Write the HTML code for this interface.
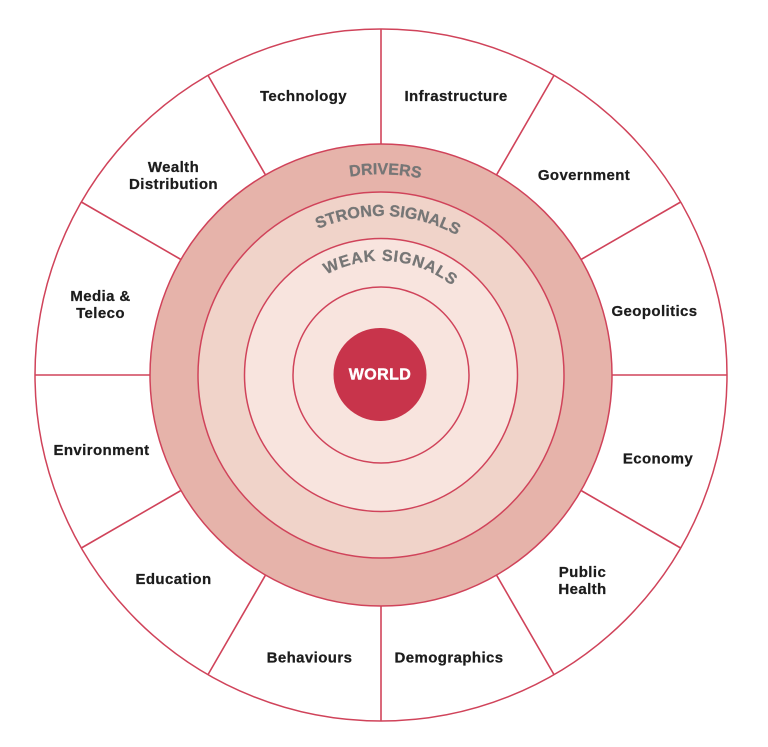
<!DOCTYPE html>
<html>
<head>
<meta charset="utf-8">
<style>
  html, body { margin:0; padding:0; background:#ffffff; }
  body { width:768px; height:747px; overflow:hidden; }
  svg { display:block; }
  .lbl { font-family:"Liberation Sans", Arial, sans-serif; font-weight:bold; font-size:15px; letter-spacing:0.4px; fill:#1c1c1c; stroke:#1c1c1c; stroke-width:0.25px; }
  .ring { font-family:"Liberation Sans", Arial, sans-serif; font-weight:bold; font-size:16px; fill:#767676; stroke:#767676; stroke-width:0.3px; }
</style>
</head>
<body>
<svg width="768" height="747" viewBox="0 0 768 747" xmlns="http://www.w3.org/2000/svg">
  <defs>
    <path id="arcD" d="M 183.1 340.1 A 201 201 0 0 1 578.9 340.1"/>
    <path id="arcS" d="M 224.4 347.4 A 159 159 0 0 1 537.6 347.4"/>
    <path id="arcW" d="M 268.7 355.2 A 114 114 0 0 1 493.3 355.2"/>
  </defs>

  <!-- outer circle -->
  <circle cx="381" cy="375" r="346" fill="#ffffff" stroke="#d0435a" stroke-width="1.5"/>

  <!-- spokes -->
  <g stroke="#d0435a" stroke-width="1.6">
    <line x1="381" y1="144" x2="381" y2="29"/>
    <line x1="381" y1="144" x2="381" y2="29" transform="rotate(30 381 375)"/>
    <line x1="381" y1="144" x2="381" y2="29" transform="rotate(60 381 375)"/>
    <line x1="381" y1="144" x2="381" y2="29" transform="rotate(90 381 375)"/>
    <line x1="381" y1="144" x2="381" y2="29" transform="rotate(120 381 375)"/>
    <line x1="381" y1="144" x2="381" y2="29" transform="rotate(150 381 375)"/>
    <line x1="381" y1="144" x2="381" y2="29" transform="rotate(180 381 375)"/>
    <line x1="381" y1="144" x2="381" y2="29" transform="rotate(210 381 375)"/>
    <line x1="381" y1="144" x2="381" y2="29" transform="rotate(240 381 375)"/>
    <line x1="381" y1="144" x2="381" y2="29" transform="rotate(270 381 375)"/>
    <line x1="381" y1="144" x2="381" y2="29" transform="rotate(300 381 375)"/>
    <line x1="381" y1="144" x2="381" y2="29" transform="rotate(330 381 375)"/>
  </g>

  <!-- rings -->
  <circle cx="381" cy="375" r="231" fill="#e6b3aa" stroke="#d0435a" stroke-width="1.5"/>
  <circle cx="381" cy="375" r="183" fill="#f0d3c9" stroke="#d0435a" stroke-width="1.5"/>
  <circle cx="381" cy="375" r="136.5" fill="#f8e4de" stroke="#d0435a" stroke-width="1.5"/>
  <circle cx="381" cy="375" r="88" fill="#f8e4de" stroke="#d0435a" stroke-width="1.5"/>
  <circle cx="380" cy="374.5" r="46.5" fill="#c8344b"/>
  <text x="380" y="379.5" text-anchor="middle" font-family="Liberation Sans, Arial, sans-serif" font-weight="bold" font-size="16" letter-spacing="0.4" fill="#ffffff" stroke="#ffffff" stroke-width="0.4">WORLD</text>

  <!-- curved ring labels -->
  <g transform="rotate(1.25 381 375)">
    <text class="ring"><textPath href="#arcD" startOffset="50%" text-anchor="middle">DRIVERS</textPath></text>
  </g>
  <g transform="rotate(2.6 381 375)">
    <text class="ring"><textPath href="#arcS" startOffset="50%" text-anchor="middle">STRONG SIGNALS</textPath></text>
  </g>
  <g transform="rotate(5.2 381 375)">
    <text class="ring" letter-spacing="0.8"><textPath href="#arcW" startOffset="50%" text-anchor="middle">WEAK SIGNALS</textPath></text>
  </g>

  <!-- segment labels -->
  <text class="lbl" x="303.5" y="101" text-anchor="middle">Technology</text>
  <text class="lbl" x="456" y="101" text-anchor="middle">Infrastructure</text>
  <text class="lbl" x="584" y="180" text-anchor="middle">Government</text>
  <text class="lbl" x="654.5" y="316" text-anchor="middle">Geopolitics</text>
  <text class="lbl" x="658" y="463.5" text-anchor="middle">Economy</text>
  <text class="lbl" x="582.5" y="577" text-anchor="middle">Public</text>
  <text class="lbl" x="582.5" y="594" text-anchor="middle">Health</text>
  <text class="lbl" x="449" y="662.5" text-anchor="middle">Demographics</text>
  <text class="lbl" x="309.5" y="662.5" text-anchor="middle">Behaviours</text>
  <text class="lbl" x="173.5" y="584" text-anchor="middle">Education</text>
  <text class="lbl" x="101.5" y="455" text-anchor="middle">Environment</text>
  <text class="lbl" x="100.5" y="301" text-anchor="middle">Media &amp;</text>
  <text class="lbl" x="100.5" y="318" text-anchor="middle">Teleco</text>
  <text class="lbl" x="173.5" y="172" text-anchor="middle">Wealth</text>
  <text class="lbl" x="173.5" y="189" text-anchor="middle">Distribution</text>
</svg>
</body>
</html>
